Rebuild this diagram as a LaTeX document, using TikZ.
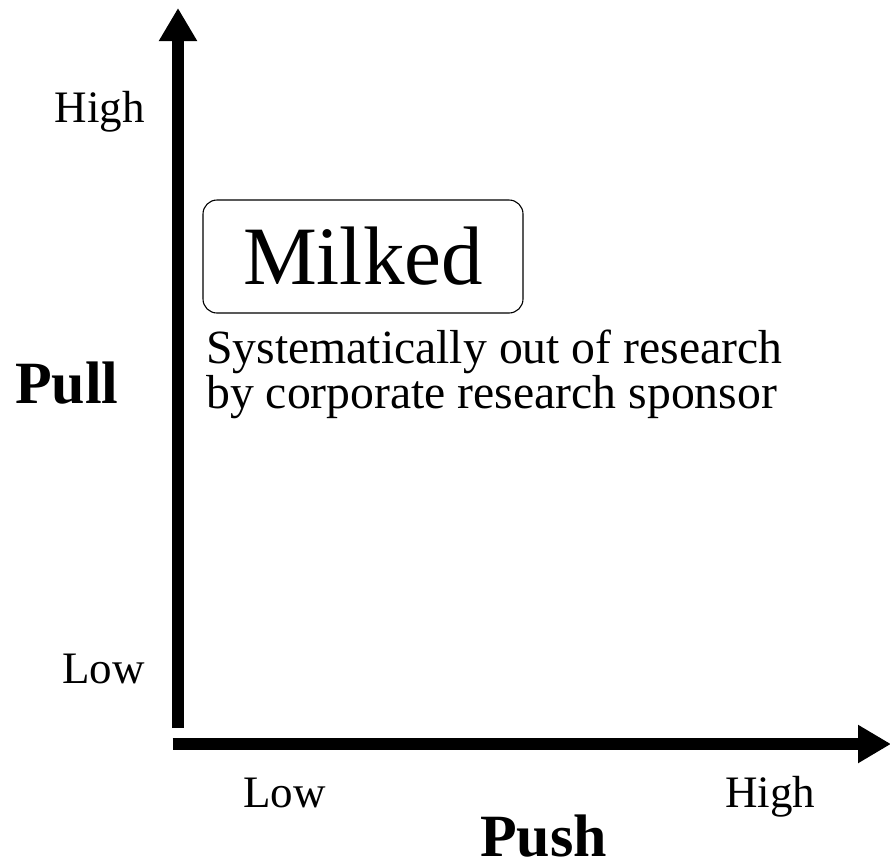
\documentclass[tikz,border=0pt]{standalone}
\usepackage{fontspec}
\setmainfont{Liberation Serif}
\usetikzlibrary{arrows.meta}
\usetikzlibrary{positioning}

\begin{document}
\begin{tikzpicture}[x=1pt,y=-1pt,
  axis/.style={line width=11.5pt,-{Triangle[length=33pt,width=36pt]}},
  tick/.style={font=\fontsize{45}{54}\selectfont,inner sep=0pt},
  title/.style={font=\fontsize{60}{72}\selectfont\bfseries,inner sep=0pt},
  quad/.style={draw,line width=1.1pt,rounded corners=14pt,minimum width=320pt,minimum height=113pt,inner sep=0pt,font=\fontsize{83}{96}\selectfont}]
\useasboundingbox (0,0) rectangle (890,863);

\coordinate (ybot) at (178,728);
\coordinate (ytop) at (178,8);
\coordinate (xleft) at (172.5,744);
\coordinate (xright) at (891,744);

\draw[axis] (ybot) -- (ytop);
\draw[axis] (xleft) -- (xright);

\node[tick,anchor=base east] (pullhigh) at (145,122) {High};
\node[tick,anchor=base east] (pulllow) at (145,683) {Low};
\node[tick,anchor=base west] (pushlow) at (243,807) {Low};
\node[tick,anchor=base west] (pushhigh) at (725,807) {High};

\node[title,anchor=base west] (pull) at (15,403) {Pull};
\node[title,anchor=base west] (push) at (480,856) {Push};

\node[quad] (milked) at (363,256.5) {Milked};
\node[tick,font=\fontsize{47.7}{43}\selectfont,anchor=base west,align=left] (desc) at (206,408) {Systematically out of research\\by corporate research sponsor};

\end{tikzpicture}
\end{document}
